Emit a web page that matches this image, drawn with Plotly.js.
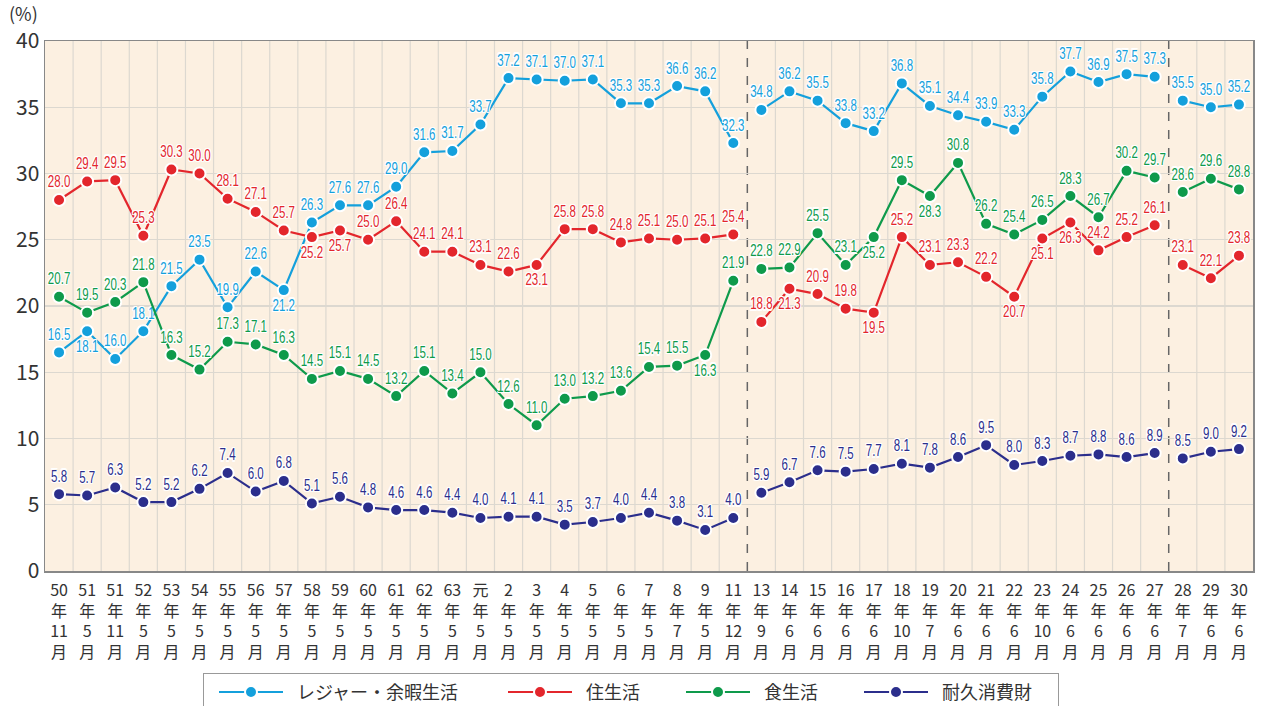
<!DOCTYPE html>
<html><head><meta charset="utf-8">
<script src="https://cdn.plot.ly/plotly-3.0.1.min.js"></script>
<style>
html,body{margin:0;padding:0;background:#fff;}
#chart{width:1261px;height:706px;}
.textpoint text{transform-box:fill-box;transform-origin:center;transform:scaleX(0.72);}
</style>
</head><body><div id="chart"></div>
<script>
const categories = ["50年11月","51年5月","51年11月","52年5月","53年5月","54年5月","55年5月","56年5月","57年5月","58年5月","59年5月","60年5月","61年5月","62年5月","63年5月","元年5月","2年5月","3年5月","4年5月","5年5月","6年5月","7年5月","8年7月","9年5月","11年12月","13年9月","14年6月","15年6月","16年6月","17年6月","18年10月","19年7月","20年6月","21年6月","22年6月","23年10月","24年6月","25年6月","26年6月","27年6月","28年7月","29年6月","30年6月"];
const leisure = [16.5,18.1,16.0,18.1,21.5,23.5,19.9,22.6,21.2,26.3,27.6,27.6,29.0,31.6,31.7,33.7,37.2,37.1,37.0,37.1,35.3,35.3,36.6,36.2,32.3,34.8,36.2,35.5,33.8,33.2,36.8,35.1,34.4,33.9,33.3,35.8,37.7,36.9,37.5,37.3,35.5,35.0,35.2];
const housing = [28.0,29.4,29.5,25.3,30.3,30.0,28.1,27.1,25.7,25.2,25.7,25.0,26.4,24.1,24.1,23.1,22.6,23.1,25.8,25.8,24.8,25.1,25.0,25.1,25.4,18.8,21.3,20.9,19.8,19.5,25.2,23.1,23.3,22.2,20.7,25.1,26.3,24.2,25.2,26.1,23.1,22.1,23.8];
const food = [20.7,19.5,20.3,21.8,16.3,15.2,17.3,17.1,16.3,14.5,15.1,14.5,13.2,15.1,13.4,15.0,12.6,11.0,13.0,13.2,13.6,15.4,15.5,16.3,21.9,22.8,22.9,25.5,23.1,25.2,29.5,28.3,30.8,26.2,25.4,26.5,28.3,26.7,30.2,29.7,28.6,29.6,28.8];
const durables = [5.8,5.7,6.3,5.2,5.2,6.2,7.4,6.0,6.8,5.1,5.6,4.8,4.6,4.6,4.4,4.0,4.1,4.1,3.5,3.7,4.0,4.4,3.8,3.1,4.0,5.9,6.7,7.6,7.5,7.7,8.1,7.8,8.6,9.5,8.0,8.3,8.7,8.8,8.6,8.9,8.5,9.0,9.2];
const seriesNames = ["レジャー・余暇生活","住生活","食生活","耐久消費財"];
const segments = [[0,25],[25,40],[40,43]];
const yTicks = [0,5,10,15,20,25,30,35,40];

// indices whose value label sits under the point
const belowIdx = {
  0: [1,8],
  1: [9,10,17,26,29,34,35,36],
  2: [23,29,31],
  3: []
};
const colors = ["#14A0DC","#E3262C","#0E9A4B","#2B2E8C"];
const allData = [leisure, housing, food, durables];

const tickText = categories.map(c => {
  const m = c.match(/^(.+?)年(\d+)月$/);
  return m[1] + "<br>年<br>" + m[2] + "<br>月";
});
const xIdx = categories.map((c,i)=>i);
const shadow = "-1px -1px 0 #fff, 1px -1px 0 #fff, -1px 1px 0 #fff, 1px 1px 0 #fff, 0 1px 0 #fff, 0 -1px 0 #fff, 1px 0 0 #fff, -1px 0 0 #fff";

const traces = [];
allData.forEach((vals, s) => {
  const pos = vals.map((v,i)=> belowIdx[s].includes(i) ? "bottom center" : "top center");
  segments.forEach((seg, k) => {
    const [a,b] = seg;
    traces.push({
      type: "scatter",
      mode: "lines+markers+text",
      x: xIdx.slice(a,b),
      y: vals.slice(a,b),
      text: vals.slice(a,b).map(v=>v.toFixed(1)),
      textposition: pos.slice(a,b),
      textfont: {family: "'Liberation Sans',Arial,sans-serif", size: 16, color: colors[s], shadow: shadow},
      name: seriesNames[s],
      legendgroup: "g"+s,
      showlegend: k===0,
      line: {color: colors[s], width: 2.2},
      marker: {color: colors[s], size: 12, line: {color: "#fff", width: 2}},
      cliponaxis: false,
      hoverinfo: "x+y"
    });
  });
});

const layout = {
  width: 1261, height: 706,
  margin: {l: 45, r: 8, t: 41, b: 135},
  paper_bgcolor: "#fff",
  plot_bgcolor: "#FCF0E1",
  font: {family: "'Noto Sans CJK JP','Noto Sans',sans-serif", color: "#333"},
  xaxis: {
    range: [-0.5, 42.5],
    tickvals: xIdx, ticktext: tickText,
    tickfont: {size: 16, color: "#333"},
    ticklabelstandoff: 4,
    showgrid: false,
    zeroline: false,
    showline: true, linecolor: "#888", linewidth: 1.5, mirror: true,
    ticks: "", fixedrange: true, automargin: false
  },
  yaxis: {
    range: [0, 40],
    tickvals: yTicks,
    tickfont: {size: 21, color: "#333"},
    gridcolor: "#DCD8D0", gridwidth: 1.2,
    zeroline: false,
    showline: true, linecolor: "#888", linewidth: 1.5, mirror: true,
    ticks: "", fixedrange: true, automargin: false
  },
  shapes: [],
  annotations: [{
    xref: "paper", yref: "paper", x: -0.0315, y: 1.0, yshift: 13, xanchor: "left", yanchor: "bottom",
    text: "(%)", showarrow: false, font: {size: 18, color: "#333"}
  }],
  legend: {
    orientation: "h", xref: "container", yref: "container",
    x: 0.4996, xanchor: "center", y: 0.047, yanchor: "top",
    bordercolor: "#999", borderwidth: 1, bgcolor: "#fff",
    font: {size: 18, color: "#333"}, itemwidth: 70,
    traceorder: "normal"
  },
  showlegend: true
};
// vertical grid lines at category boundaries
for (let i = 0; i < categories.length - 1; i++) {
  const xb = i + 0.5;
  if (xb === 24.5 || xb === 39.5) continue;
  layout.shapes.push({type: "line", xref: "x", yref: "y", x0: xb, x1: xb, y0: 0, y1: 40, line: {color: "#DCD8D0", width: 1.2}, layer: "below"});
}
[24.5, 39.5].forEach(xb => layout.shapes.push({type: "line", xref: "x", yref: "y", x0: xb, x1: xb, y0: 0, y1: 40, line: {color: "#666", width: 1.5, dash: "dash"}, layer: "below"}));

function parseT(t){ const m = /translate\(\s*([-\d.e]+)[ ,]+([-\d.e]+)\s*\)/.exec(t||""); return m ? [parseFloat(m[1]), parseFloat(m[2])] : [0,0]; }

Plotly.newPlot("chart", traces, layout, {displayModeBar: false, staticPlot: true}).then(gd => {
  const leg = gd.querySelector(".legend");
  if (!leg) return;
  const boxLeft = 203, boxWidth = 855;
  const itemX = [14, 303, 481, 659];
  leg.querySelectorAll(".traces").forEach((t, i) => {
    t.querySelectorAll(".legendlines path").forEach(p => p.setAttribute("d", "M2,0h64"));
    t.querySelectorAll(".legendpoints path").forEach(p => p.setAttribute("transform", "translate(34,0)"));
    const [, ty] = parseT(t.getAttribute("transform"));
    if (i < itemX.length) t.setAttribute("transform", "translate(" + itemX[i] + "," + ty + ")");
  });
  const [, ly] = parseT(leg.getAttribute("transform"));
  leg.setAttribute("transform", "translate(" + boxLeft + "," + ly + ")");
  const bg = leg.querySelector("rect.bg");
  if (bg) bg.setAttribute("width", boxWidth);
  const sb = leg.querySelector(".scrollbox");
  if (sb) {
    const cp = sb.getAttribute("clip-path");
    const m = cp && /url\(['"]?#([^'")]+)['"]?\)/.exec(cp);
    if (m) {
      const el = document.getElementById(m[1]);
      if (el) el.querySelectorAll("rect").forEach(r => r.setAttribute("width", boxWidth));
    }
  }
});
</script></body></html>
